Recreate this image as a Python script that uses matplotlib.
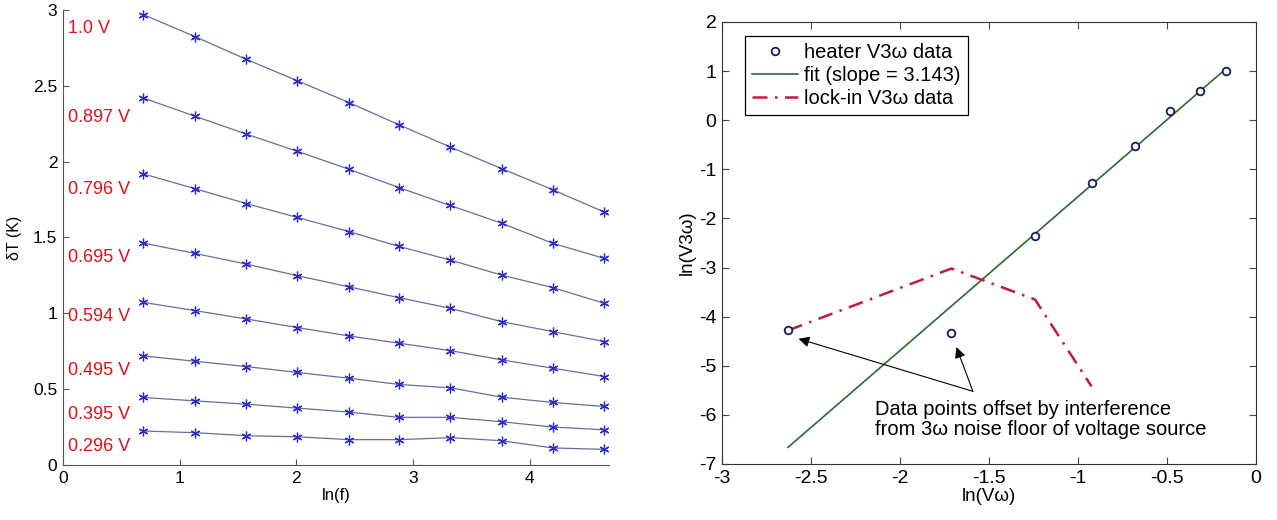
import matplotlib
matplotlib.use("Agg")
import matplotlib.pyplot as plt

plt.rcParams['font.family'] = ['Liberation Sans', 'DejaVu Sans']

# ---- left panel data ----
ln_f = [0.69, 1.13, 1.57, 2.01, 2.45, 2.88, 3.32, 3.76, 4.20, 4.64]
volt_labels = ['1.0 V', '0.897 V', '0.796 V', '0.695 V', '0.594 V', '0.495 V', '0.395 V', '0.296 V']
label_y = [2.875, 2.29, 1.818, 1.37, 0.978, 0.62, 0.33, 0.12]
dT_10 = [2.969, 2.825, 2.675, 2.533, 2.390, 2.243, 2.096, 1.954, 1.814, 1.667]
dT_0897 = [2.419, 2.300, 2.182, 2.068, 1.950, 1.829, 1.711, 1.594, 1.461, 1.362]
dT_0796 = [1.919, 1.822, 1.724, 1.632, 1.539, 1.441, 1.351, 1.252, 1.169, 1.066]
dT_0695 = [1.463, 1.395, 1.325, 1.248, 1.175, 1.103, 1.033, 0.945, 0.879, 0.814]
dT_0594 = [1.072, 1.018, 0.963, 0.906, 0.851, 0.803, 0.754, 0.693, 0.638, 0.583]
dT_0495 = [0.719, 0.684, 0.649, 0.610, 0.572, 0.531, 0.509, 0.447, 0.412, 0.386]
dT_0395 = [0.445, 0.423, 0.401, 0.375, 0.349, 0.314, 0.314, 0.285, 0.250, 0.232]
dT_0296 = [0.224, 0.213, 0.193, 0.186, 0.167, 0.167, 0.180, 0.160, 0.112, 0.103]
series_dT = [dT_10, dT_0897, dT_0796, dT_0695, dT_0594, dT_0495, dT_0395, dT_0296]

# ---- right panel data ----
heater_x = [-0.167, -0.314, -0.481, -0.680, -0.923, -1.241, -1.711, -2.629]
heater_y = [1.01, 0.587, 0.191, -0.526, -1.277, -2.355, -4.333, -4.279]
fit_x = [-2.629, -0.167]
fit_y = [-6.66, 1.05]
lockin_x = [-2.629, -1.711, -1.241, -0.923]
lockin_y = [-4.28, -3.02, -3.65, -5.42]
right_xticks = [-3, -2.5, -2, -1.5, -1, -0.5, 0]
right_yticks = [-7, -6, -5, -4, -3, -2, -1, 0, 1, 2]

fig = plt.figure(figsize=(12.77, 5.2), dpi=100)

# ---------------- left ----------------
ax1 = fig.add_axes([0.0493, 0.1058, 0.4276, 0.875])
for ys in series_dT:
    ax1.plot(ln_f, ys, color='#6c6c9c', lw=0.9, marker=(6, 2, 0), ms=7,
             mec='#2a2ac8', mfc='#2a2ac8', mew=0.9)
for lab, yy in zip(volt_labels, label_y):
    ax1.text(0.04, yy, lab, color='#e0101a', fontsize=13, va='center', ha='left')
ax1.set_xlim(0, 4.68)
ax1.set_ylim(0, 3)
ax1.set_xticks([0, 1, 2, 3, 4])
ax1.set_yticks([0, 0.5, 1, 1.5, 2, 2.5, 3])
ax1.set_yticklabels(['0', '0.5', '1', '1.5', '2', '2.5', '3'])
ax1.spines['top'].set_visible(False)
ax1.spines['right'].set_visible(False)
for s in ax1.spines.values():
    s.set_color('#555555')
    s.set_linewidth(0.8)
ax1.tick_params(direction='in', length=4, labelsize=12.5, color='#555555', pad=4)
ax1.set_xlabel('ln(f)', fontsize=12, labelpad=2)
ax1.set_ylabel('δT (K)', fontsize=11.5, labelpad=8)

# ---------------- right ----------------
ax2 = fig.add_axes([0.5654, 0.1077, 0.418, 0.85])
ax2.plot(heater_x, heater_y, linestyle='none', marker='o', ms=5.5, mfc='white',
         mec='#1a1a60', mew=1.3, label='heater V3ω data', zorder=4)
ax2.plot(fit_x, fit_y, color='#2a6a38', lw=1.2, label='fit (slope = 3.143)', zorder=3)
ax2.plot(lockin_x, lockin_y, color='#c4183c', lw=1.8, linestyle=(0, (6, 3, 1, 3)),
         label='lock-in V3ω data', zorder=3)
ax2.set_xlim(-3, 0)
ax2.set_ylim(-7, 2)
ax2.set_xticks(right_xticks)
ax2.set_xticklabels(['-3', '-2.5', '-2', '-1.5', '-1', '-0.5', '0'])
ax2.set_yticks(right_yticks)
ax2.set_yticklabels([str(v) for v in right_yticks])
ax2.tick_params(direction='in', length=5, labelsize=14, top=True, right=True,
                color='#444444', pad=4)
for s in ax2.spines.values():
    s.set_color('#333333')
    s.set_linewidth(0.8)
ax2.set_xlabel('ln(Vω)', fontsize=13.5, labelpad=1)
ax2.set_ylabel('ln(V3ω)', fontsize=13.5, labelpad=2)

leg = ax2.legend(loc='upper left', bbox_to_anchor=(0.043, 0.968), borderaxespad=0,
                 fontsize=14.5, fancybox=False, framealpha=1, edgecolor='black',
                 handlelength=2.3, handletextpad=0.3, labelspacing=0.2,
                 borderpad=0.35)
leg.get_frame().set_linewidth(0.9)

ax2.annotate('', xy=(-2.57, -4.45), xytext=(-1.59, -5.52),
             arrowprops=dict(arrowstyle='-|>', color='black', lw=0.8,
                             mutation_scale=16, shrinkA=0, shrinkB=0))
ax2.annotate('', xy=(-1.683, -4.62), xytext=(-1.59, -5.52),
             arrowprops=dict(arrowstyle='-|>', color='black', lw=0.8,
                             mutation_scale=16, shrinkA=0, shrinkB=0))
ax2.text(-2.14, -6.1, 'Data points offset by interference\nfrom 3ω noise floor of voltage source',
         fontsize=14.5, ha='left', va='center', linespacing=1.05)

fig.savefig('out.png', dpi=100)
